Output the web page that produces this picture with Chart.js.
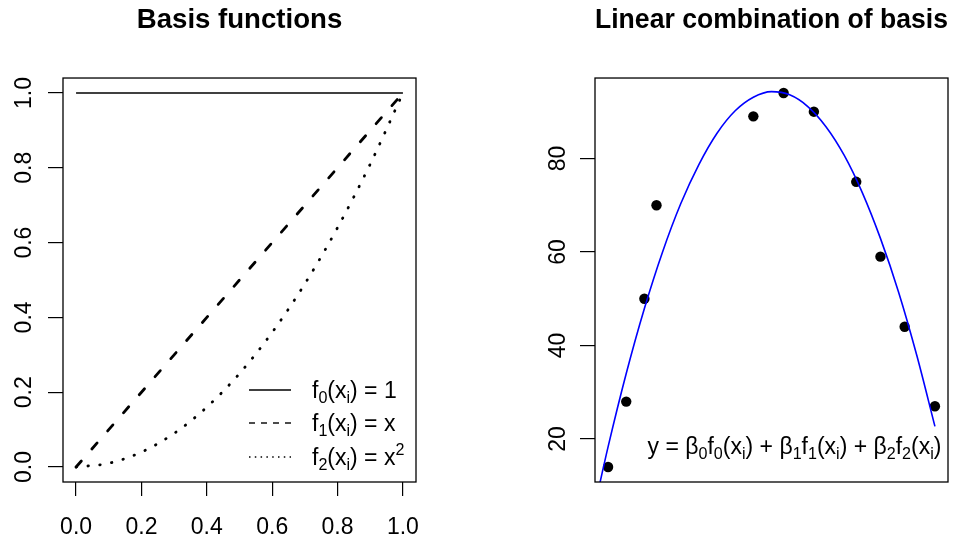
<!DOCTYPE html>
<html>
<head>
<meta charset="utf-8">
<script src="https://cdn.jsdelivr.net/npm/chart.js@4.4.1/dist/chart.umd.min.js"></script>
<style>
  body { margin: 0; background: #fff; }
  #wrap { position: relative; width: 961px; height: 540px; overflow: hidden; background: #fff; }
  #left { position: absolute; left: 0; top: 0; }
  #right { position: absolute; left: 480px; top: 0; }
</style>
</head>
<body>
<div id="wrap">
  <canvas id="left" width="480" height="540"></canvas>
  <canvas id="right" width="578" height="540"></canvas>
</div>
<script>
// left panel: the three basis functions
var basisX = [0, 0.1, 0.2, 0.3, 0.4, 0.5, 0.6, 0.7, 0.8, 0.9, 1];
var f0Vals = [1, 1, 1, 1, 1, 1, 1, 1, 1, 1, 1];
var f1Vals = [0, 0.1, 0.2, 0.3, 0.4, 0.5, 0.6, 0.7, 0.8, 0.9, 1];
var f2Vals = [0, 0.01, 0.04, 0.09, 0.16, 0.25, 0.36, 0.49, 0.64, 0.81, 1];
var basisLabels = ['f_{0}(x_{i}) = 1', 'f_{1}(x_{i}) = x', 'f_{2}(x_{i}) = x^{2}'];
var leftTicks = [0, 0.2, 0.4, 0.6, 0.8, 1];

// right panel: observations and the fitted curve
var obsX = [0, 3, 6, 8, 24, 29, 34, 41, 45, 49, 54];
var obsY = [14, 28, 50, 70, 89, 94, 90, 75, 59, 44, 27];
var fitX = [-2, 0, 3, 6, 9, 12, 15, 18, 21, 24, 27, 30, 33, 36, 39, 42, 45, 48, 51, 54];
var fitY = [6.8, 18.3, 34.0, 47.9, 60.0, 70.3, 78.7, 85.4, 90.2, 93.1, 94.3, 93.6, 91.1, 86.8, 80.7, 72.7, 62.9, 51.4, 37.9, 22.7];
var rightTicks = [20, 40, 60, 80];
var formula = 'y = β_{0}f_{0}(x_{i}) + β_{1}f_{1}(x_{i}) + β_{2}f_{2}(x_{i})';

var titles = ['Basis functions', 'Linear combination of basis'];

var FAMILY = '"Liberation Sans", Arial, Helvetica, sans-serif';
var FS = 23;
Chart.defaults.font.family = FAMILY;
Chart.defaults.color = '#000';

function pts(xs, ys) {
    return xs.map(function (x, i) { return { x: x, y: ys[i] }; });
}

// text with _{sub} and ^{sup} parts, like R plotmath
function drawMath(ctx, str, x, y, size, align) {
    var parts = [];
    var re = /([_^])\{([^}]*)\}|([^_^]+)/g;
    var m;
    while ((m = re.exec(str))) {
        if (m[3]) parts.push({ t: m[3], k: 0 });
        else parts.push({ t: m[2], k: m[1] === '_' ? 1 : 2 });
    }
    var w = 0;
    parts.forEach(function (p) {
        p.s = p.k ? size * 0.7 : size;
        ctx.font = p.s + 'px ' + FAMILY;
        p.w = ctx.measureText(p.t).width;
        w += p.w;
    });
    var cx = align === 'center' ? x - w / 2 : (align === 'right' ? x - w : x);
    ctx.textAlign = 'left';
    ctx.textBaseline = 'alphabetic';
    ctx.fillStyle = '#000';
    parts.forEach(function (p) {
        ctx.font = p.s + 'px ' + FAMILY;
        var dy = p.k === 1 ? size * 0.22 : (p.k === 2 ? -size * 0.42 : 0);
        ctx.fillText(p.t, cx, y + dy);
        cx += p.w;
    });
}

var boxPlugin = {
    id: 'box',
    afterDraw: function (chart) {
        var a = chart.chartArea, c = chart.ctx;
        c.save();
        c.strokeStyle = '#000';
        c.lineWidth = 1.3;
        c.strokeRect(a.left, a.top, a.right - a.left, a.bottom - a.top);
        c.restore();
    }
};

var legendPlugin = {
    id: 'basisLegend',
    afterDatasetsDraw: function (chart) {
        var a = chart.chartArea, c = chart.ctx;
        var rows = [a.bottom - 92, a.bottom - 59, a.bottom - 25];
        var dashes = [[], [6, 6], [1.5, 4.3]];
        c.save();
        rows.forEach(function (ry, i) {
            c.beginPath();
            c.setLineDash(dashes[i]);
            c.lineWidth = 1.4;
            c.strokeStyle = '#000';
            c.moveTo(a.right - 167, ry);
            c.lineTo(a.right - 125, ry);
            c.stroke();
            c.setLineDash([]);
            drawMath(c, basisLabels[i], a.right - 104, ry + 8, FS, 'left');
        });
        c.restore();
    }
};

var formulaPlugin = {
    id: 'formula',
    afterDatasetsDraw: function (chart) {
        var a = chart.chartArea, c = chart.ctx;
        c.save();
        drawMath(c, formula, a.left + 199.5, a.bottom - 28, FS, 'center');
        c.restore();
    }
};

function titleOpts(text) {
    return {
        display: true,
        text: text,
        color: '#000',
        fullSize: false,
        font: { size: 27.6, weight: 'bold', family: FAMILY, lineHeight: 1.2 },
        padding: { top: 4, bottom: 40.9 }
    };
}

function yAxis(min, max, ticks, fmt, pad) {
    return {
        type: 'linear',
        min: min,
        max: max,
        afterBuildTicks: function (s) { s.ticks = ticks.map(function (v) { return { value: v }; }); },
        afterFit: function (s) { s.width = pad.width; },
        ticks: {
            autoSkip: false,
            minRotation: 90,
            maxRotation: 90,
            crossAlign: 'center',
            padding: pad.padding,
            font: { size: FS },
            color: '#000',
            callback: fmt
        },
        grid: { drawOnChartArea: false, drawTicks: true, tickLength: 15, color: '#000', lineWidth: 1.2 },
        border: { display: false }
    };
}

// left chart
new Chart(document.getElementById('left').getContext('2d'), {
    type: 'scatter',
    data: {
        datasets: [
            { data: pts(basisX, f0Vals), showLine: true, borderColor: '#000', borderWidth: 1.5, pointRadius: 0 },
            { data: pts(basisX, f1Vals), showLine: true, borderColor: '#000', borderWidth: 2.8, borderDash: [8, 16], borderCapStyle: 'round', pointRadius: 0 },
            { data: pts(basisX, f2Vals), showLine: true, borderColor: '#000', borderWidth: 2.8, borderDash: [0.5, 11.4], borderCapStyle: 'round', cubicInterpolationMode: 'monotone', pointRadius: 0 }
        ]
    },
    options: {
        responsive: false,
        animation: false,
        layout: { padding: { left: 0, right: 64, top: 0, bottom: 0 } },
        plugins: { legend: { display: false }, tooltip: { enabled: false }, title: titleOpts(titles[0]) },
        scales: {
            x: {
                type: 'linear',
                min: -0.04,
                max: 1.04,
                afterBuildTicks: function (s) { s.ticks = leftTicks.map(function (v) { return { value: v }; }); },
                afterFit: function (s) { s.height = 58; },
                ticks: { autoSkip: false, maxRotation: 0, padding: 18, font: { size: FS }, color: '#000',
                    callback: function (v) { return v.toFixed(1); } },
                grid: { drawOnChartArea: false, drawTicks: true, tickLength: 14, color: '#000', lineWidth: 1.2 },
                border: { display: false }
            },
            y: yAxis(-0.04, 1.04, leftTicks, function (v) { return v.toFixed(1); }, { width: 63, padding: 7 })
        }
    },
    plugins: [boxPlugin, legendPlugin]
});

// right chart
new Chart(document.getElementById('right').getContext('2d'), {
    type: 'scatter',
    data: {
        datasets: [
            { data: pts(fitX, fitY), showLine: true, borderColor: '#0000ff', borderWidth: 1.6, cubicInterpolationMode: 'monotone', pointRadius: 0 },
            { data: pts(obsX, obsY), showLine: false, pointRadius: 5.2, pointBackgroundColor: '#000', pointBorderWidth: 0, pointBorderColor: '#000' }
        ]
    },
    options: {
        responsive: false,
        animation: false,
        layout: { padding: { left: 0, right: 110, top: 0, bottom: 58 } },
        plugins: { legend: { display: false }, tooltip: { enabled: false }, title: titleOpts(titles[1]) },
        scales: {
            x: { type: 'linear', min: -2.16, max: 56.16, display: false },
            y: yAxis(10.8, 97.2, rightTicks, function (v) { return String(v); }, { width: 115, padding: 9 })
        }
    },
    plugins: [boxPlugin, formulaPlugin]
});
</script>
</body>
</html>
